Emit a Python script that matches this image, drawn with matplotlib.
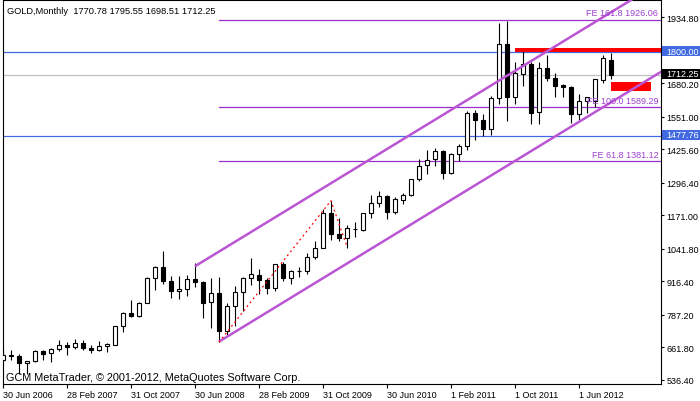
import numpy as np
import matplotlib
matplotlib.use("Agg")
import matplotlib.pyplot as plt
from matplotlib.patches import Rectangle

plt.rcParams['font.family'] = ['Liberation Sans', 'DejaVu Sans']

# ---------------- data ----------------
opens = [614, 633, 626, 601, 608, 646, 638, 654, 669, 664, 679, 660, 650, 666, 672, 744, 795, 784,
         834, 928, 973, 918, 879, 886, 926, 914, 837, 872, 723, 821, 876, 929, 942, 920, 890, 981,
         929, 955, 954, 1010, 1045, 1180, 1100, 1085, 1116, 1113, 1180, 1219, 1246, 1184, 1230, 1250,
         1309, 1364, 1388, 1420, 1333, 1409, 1439, 1565, 1538, 1503, 1622, 1830, 1627, 1716, 1753,
         1570, 1740, 1699, 1675, 1667, 1563, 1613, 1613, 1692, 1770.78]
highs = [663, 652, 635, 610, 650, 652, 658, 690, 680, 692, 690, 672, 684, 678, 745, 798, 845, 838,
         934, 975, 1033, 935, 935, 940, 988, 918, 930, 934, 834, 896, 934, 1007, 965, 928, 981, 990,
         961, 973, 1025, 1073, 1195, 1227, 1162, 1135, 1146, 1180, 1250, 1265, 1250, 1240, 1258, 1309,
         1388, 1424, 1431, 1424, 1411, 1447, 1575, 1577, 1560, 1632, 1913, 1921, 1764, 1803, 1763,
         1764, 1791, 1718, 1678, 1670, 1640, 1625, 1697, 1790, 1795.55]
lows = [605, 612, 560, 560, 606, 612, 604, 648, 630, 655, 652, 640, 647, 642, 670, 722, 777, 777,
        833, 882, 907, 850, 848, 860, 895, 775, 735, 681, 707, 743, 800, 900, 866, 866, 880, 917,
        904, 932, 945, 1002, 1043, 1075, 1072, 1044, 1088, 1112, 1161, 1201, 1157, 1177, 1215, 1245,
        1305, 1330, 1360, 1309, 1329, 1381, 1421, 1462, 1478, 1481, 1600, 1535, 1600, 1670, 1523,
        1523, 1690, 1628, 1627, 1527, 1540, 1565, 1587, 1680, 1698.51]
closes = [633, 626, 599, 609, 646, 636, 654, 669, 662, 679, 658, 650, 665, 673, 744, 795, 784, 831,
          928, 973, 918, 879, 888, 926, 914, 831, 872, 723, 821, 876, 929, 944, 920, 890, 981, 929,
          957, 954, 1010, 1045, 1180, 1098, 1085, 1120, 1118, 1180, 1219, 1246, 1184, 1232, 1250, 1309,
          1362, 1385, 1418, 1333, 1409, 1439, 1565, 1538, 1503, 1622, 1830, 1627, 1718, 1753, 1564,
          1740, 1699, 1669, 1666, 1563, 1613, 1628, 1695, 1776, 1712.25]

xtick_pos = [0, 8, 16, 24, 32, 40, 48, 56, 64, 72]
xtick_labels = ["30 Jun 2006", "28 Feb 2007", "31 Oct 2007", "30 Jun 2008", "28 Feb 2009",
                "31 Oct 2009", "30 Jun 2010", "1 Feb 2011", "1 Oct 2011", "1 Jun 2012"]
ytick_vals = [1934.80, 1680.20, 1551.00, 1425.60, 1296.40, 1171.00, 1041.80, 916.40, 787.20, 661.80, 536.40]

fe_levels = [1926.06, 1589.29, 1381.12]
fe_labels = ["FE 161.8 1926.06", "FE 100.0 1589.29", "FE 61.8 1381.12"]
fe_start = 27

blue_levels = [1800.00, 1477.76]
bid_price = 1712.25

chan_upper_x = [24, 84]
chan_upper_y = [974, 2105]
chan_lower_x = [27, 84]
chan_lower_y = [683, 1757.5]

zigzag_x = [27, 41, 43]
zigzag_y = [681, 1227, 1050]

red_zones = [(64, 90, 1800, 1818), (76, 81, 1650, 1684)]

header = "GOLD,Monthly  1770.78 1795.55 1698.51 1712.25"
copyright_txt = "GCM MetaTrader, \u00a9 2001-2012, MetaQuotes Software Corp."

# ---------------- figure ----------------
W, H = 700, 402
fig = plt.figure(figsize=(W / 100, H / 100), dpi=100)
fig.patch.set_facecolor('white')
ax = fig.add_axes([2.5 / W, (H - 385) / H, (661 - 2.5) / W, (385 - 0.5) / H])
ax.set_xlim(-0.05, 82.25)
ax.set_ylim(519.7, 2003.5)

for s in ax.spines.values():
    s.set_linewidth(0.8)
    s.set_color('black')

# horizontal lines
for lv in blue_levels:
    ax.axhline(lv, color='#4169E1', lw=0.9, zorder=1)
ax.axhline(bid_price, color='#C0C0C0', lw=0.9, zorder=1)
for lv, lb in zip(fe_levels, fe_labels):
    ax.plot([fe_start, 90], [lv, lv], color='#9932CC', lw=0.9, zorder=1, clip_on=True)
    ax.annotate(lb, xy=(81.9, lv), xytext=(0, 1.5), textcoords='offset points',
                ha='right', va='bottom', fontsize=6.5, color='#A040D0', zorder=6)

# red zones
for x0, x1, y0, y1 in red_zones:
    ax.add_patch(Rectangle((x0, y0), x1 - x0, y1 - y0, facecolor='#FF0000', edgecolor='none', zorder=2))

# candles
o = np.array(opens); h = np.array(highs); l = np.array(lows); c = np.array(closes)
x = np.arange(len(o))
ax.vlines(x, l, h, color='black', lw=0.8, zorder=3)
up = c >= o
ax.bar(x, np.abs(c - o), bottom=np.minimum(o, c), width=0.55,
       color=np.where(up, 'white', 'black'), edgecolor='black', linewidth=0.8, zorder=4)

# channel
ax.plot(chan_upper_x, chan_upper_y, color='#BA55D3', lw=1.8, zorder=5, solid_capstyle='butt')
ax.plot(chan_lower_x, chan_lower_y, color='#BA55D3', lw=1.8, zorder=5, solid_capstyle='butt')

# zigzag
ax.plot(zigzag_x, zigzag_y, color='red', lw=0.9, linestyle=(0, (1.5, 2.5)), zorder=5)

# axes ticks
ax.yaxis.tick_right()
ax.set_yticks(ytick_vals)
ax.set_yticklabels([f"{v:.2f}" for v in ytick_vals])
ax.tick_params(axis='y', length=2.5, width=0.8, pad=1.5, labelsize=6.5, colors='black')
ax.set_xticks(xtick_pos)
ax.set_xticklabels(xtick_labels)
ax.tick_params(axis='x', length=3, width=0.8, pad=1.2, labelsize=6.5)
for lbl in ax.get_xticklabels():
    lbl.set_horizontalalignment('left')

# price boxes on the right axis
fig.canvas.draw()
boxes = [(1800.00, '#4169E1'), (bid_price, 'black'), (1477.76, '#4169E1')]
for price, fc in boxes:
    yc = ax.transData.transform((0, price))[1] + 1.0
    fig.patches.append(Rectangle((662 / W, (yc - 5) / H), 38 / W, 10 / H,
                                 transform=fig.transFigure, facecolor=fc, edgecolor='none', zorder=10))
    fig.text(666 / W, yc / H, f"{price:.2f}", color='white', fontsize=6.5,
             va='center', ha='left', zorder=11)

fig.text(7 / W, 1 - 14 / H, header, fontsize=6.7, va='baseline', ha='left')
fig.text(6 / W, 1 - 381 / H, copyright_txt, fontsize=7.8, va='baseline', ha='left')

fig.savefig('out.png', dpi=100, facecolor='white')
